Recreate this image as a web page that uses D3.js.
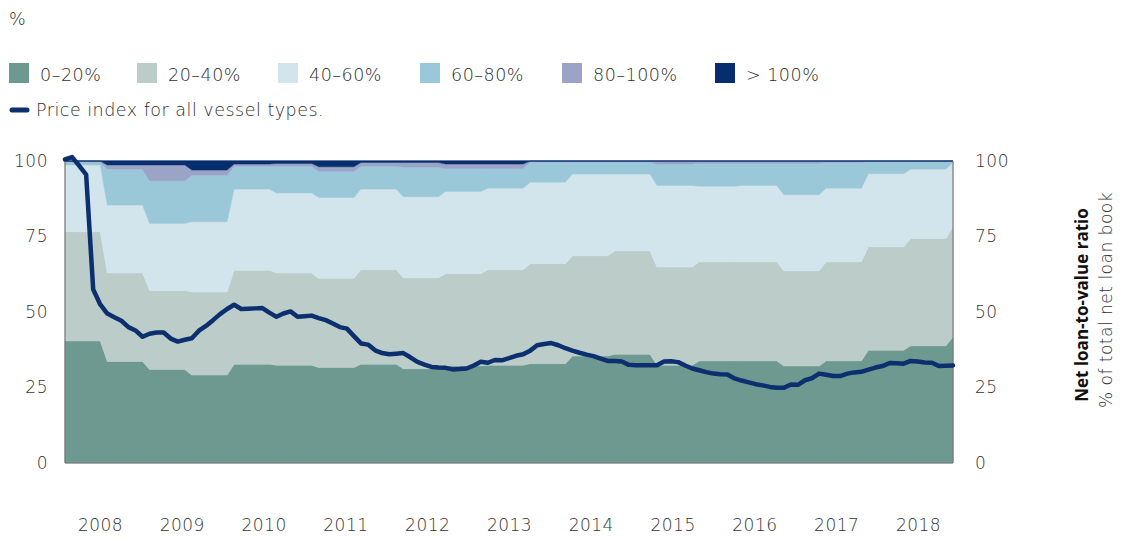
<!DOCTYPE html>
<html lang="en">
<head>
<meta charset="UTF-8">
<title>Net loan-to-value ratio</title>
<script src="https://d3js.org/d3.v7.min.js"></script>
<style>
  body { margin: 0; background: #fff; }
  text { font-family: "DejaVu Sans", sans-serif; font-weight: 200; fill: #2e2e2e; letter-spacing: 0.5px; }
  .axis text { font-size: 17px; fill: #333; font-family: "DejaVu Sans", sans-serif; font-weight: 200; }
  .axis path, .axis line { display: none; }
</style>
</head>
<body>
<svg id="chart" width="1122" height="538"></svg>
<script>
// half-year readings, 22 periods (H1 2008 ... end 2018), % of net loan book
const band0_20   = [40.4, 33.6, 31.0, 29.1, 32.7, 32.4, 31.6, 32.7, 31.2, 32.2, 32.4, 32.9, 35.4, 36.0, 32.4, 33.8, 33.8, 32.1, 33.8, 37.3, 38.8, 41.7];
const band20_40  = [36.2, 29.3, 26.1, 27.5, 31.1, 30.5, 29.6, 31.3, 30.1, 30.5, 31.6, 33.1, 33.2, 34.2, 32.5, 32.8, 32.8, 31.5, 32.8, 34.3, 35.5, 36.5];
const band40_60  = [22.1, 22.5, 22.2, 23.3, 26.9, 26.5, 26.7, 26.7, 26.9, 27.2, 27.0, 27.0, 27.1, 25.5, 27.0, 25.0, 25.3, 25.2, 24.4, 24.2, 23.0, 21.3];
const band60_80  = [ 1.0, 11.9, 14.2, 15.4,  7.6,  8.9,  8.7,  7.6,  9.8,  7.6,  6.5,  6.7,  4.0,  4.0,  7.1,  7.7,  7.4, 10.5,  8.5,  4.0,  2.5,  0.5];
const band80_100 = [ 0.3,  1.4,  5.2,  1.7,  0.7,  0.9,  1.5,  1.2,  1.5,  1.5,  1.5,  0.3,  0.3,  0.3,  1.0,  0.7,  0.7,  0.7,  0.5,  0.2,  0.2,  0.0];
const bandOver100= [ 0.0,  1.3,  1.3,  3.0,  1.0,  0.8,  1.9,  0.5,  0.5,  1.0,  1.0,  0.0,  0.0,  0.0,  0.0,  0.0,  0.0,  0.0,  0.0,  0.0,  0.0,  0.0];

// monthly price index for all vessel types
const priceIndex = [
  100.5, 101.3, 98.5, 95.5, 57.5, 52.5, 49.5, 48.3, 47.1, 45.0, 43.9, 41.8,
  42.8, 43.2, 43.2, 41.2, 40.2, 40.8, 41.3, 43.8, 45.4, 47.3, 49.3, 51.0,
  52.4, 51.0, 51.1, 51.2, 51.3, 49.8, 48.4, 49.5, 50.2, 48.4, 48.6, 48.8,
  48.0, 47.3, 46.2, 45.0, 44.5, 42.0, 39.6, 39.2, 37.3, 36.4, 36.0, 36.2,
  36.4, 35.0, 33.5, 32.6, 31.8, 31.6, 31.5, 31.0, 31.1, 31.3, 32.3, 33.5,
  33.2, 34.1, 34.0, 34.7, 35.5, 36.0, 37.2, 39.0, 39.4, 39.7, 39.0, 38.0,
  37.2, 36.5, 35.9, 35.4, 34.6, 33.8, 33.8, 33.6, 32.5, 32.4, 32.4, 32.4,
  32.4, 33.6, 33.7, 33.4, 32.3, 31.3, 30.7, 30.1, 29.6, 29.4, 29.3, 28.0,
  27.3, 26.7, 26.1, 25.7, 25.2, 24.9, 24.9, 26.0, 25.9, 27.4, 28.1, 29.6,
  29.2, 28.8, 28.8, 29.6, 30.0, 30.2, 30.9, 31.6, 32.1, 33.1, 33.0, 32.9,
  33.8, 33.6, 33.3, 33.2, 32.1, 32.2, 32.3
];

const years = [2008, 2009, 2010, 2011, 2012, 2013, 2014, 2015, 2016, 2017, 2018];
const yTicks = [0, 25, 50, 75, 100];
const seriesNames = ["0–20%", "20–40%", "40–60%", "60–80%", "80–100%", "> 100%"];
const seriesColors = ["#6e9991", "#bccdc9", "#d2e4ec", "#9ac8d9", "#9ba3c6", "#062e6e"];
const lineColor = "#0b2f6f";

const svg = d3.select("#chart");
const plot = {left: 65, right: 953, top: 161, bottom: 463};

const x = d3.scaleLinear().domain([0, priceIndex.length - 1]).range([plot.left, plot.right]);
const y = d3.scaleLinear().domain([0, 100]).range([plot.bottom, plot.top]);

// stack the half-year bands
const bands = [band0_20, band20_40, band40_60, band60_80, band80_100, bandOver100];
const rows = band0_20.map((_, i) => {
  const r = {period: i};
  seriesNames.forEach((n, j) => r[n] = bands[j][i]);
  return r;
});
const stacked = d3.stack().keys(seriesNames)(rows);

// each half-year value is held for six months, last reading sits on the edge
function stepPoints(layer) {
  const pts = [];
  layer.forEach((d, i) => {
    const start = i * 6;
    pts.push({m: start, y0: d[0], y1: d[1]});
    if (start + 5 <= priceIndex.length - 1) pts.push({m: start + 5, y0: d[0], y1: d[1]});
  });
  return pts;
}

const area = d3.area()
  .x(d => x(d.m))
  .y0(d => y(d.y0))
  .y1(d => y(d.y1));

svg.append("g").selectAll("path")
  .data(stacked)
  .join("path")
  .attr("fill", (d, i) => seriesColors[i])
  .attr("stroke", (d, i) => seriesColors[i])
  .attr("stroke-width", 0.5)
  .attr("d", d => area(stepPoints(d)));

// frame
svg.append("line").attr("x1", plot.left).attr("x2", plot.right).attr("y1", plot.top).attr("y2", plot.top)
  .attr("stroke", "#0b2f6f").attr("stroke-width", 1.2);
svg.append("line").attr("x1", plot.left).attr("x2", plot.right).attr("y1", plot.bottom).attr("y2", plot.bottom)
  .attr("stroke", "#777").attr("stroke-width", 1.2);
svg.append("line").attr("x1", plot.left).attr("x2", plot.left).attr("y1", plot.top).attr("y2", plot.bottom)
  .attr("stroke", "#777").attr("stroke-width", 1.2);
svg.append("line").attr("x1", plot.right).attr("x2", plot.right).attr("y1", plot.top).attr("y2", plot.bottom)
  .attr("stroke", "#777").attr("stroke-width", 1.2);

// price index line
const line = d3.line().x((d, i) => x(i)).y(d => y(d));
svg.append("path")
  .datum(priceIndex)
  .attr("fill", "none")
  .attr("stroke", lineColor)
  .attr("stroke-width", 4.5)
  .attr("stroke-linejoin", "round")
  .attr("stroke-linecap", "round")
  .attr("d", line);

// axes
svg.append("g").attr("class", "axis")
  .attr("transform", `translate(${plot.left - 17},0)`)
  .call(d3.axisLeft(y).tickValues(yTicks).tickSize(0).tickPadding(0));
svg.append("g").attr("class", "axis")
  .attr("transform", `translate(${plot.right + 22},0)`)
  .call(d3.axisRight(y).tickValues(yTicks).tickSize(0).tickPadding(0));

const xYears = d3.scalePoint().domain(years).range([100, 918]);
svg.append("g").attr("class", "axis")
  .attr("transform", `translate(0,${plot.bottom + 56})`)
  .call(d3.axisBottom(xYears).tickSize(0).tickPadding(0).tickFormat(d3.format("d")));

// right-hand titles
svg.append("text")
  .attr("transform", "translate(1088,305) rotate(-90)")
  .attr("text-anchor", "middle")
  .style("font-family", "\"Open Sans\", sans-serif").style("letter-spacing", "0px")
  .style("font-size", "17px").style("font-weight", "700").style("fill", "#111")
  .text("Net loan-to-value ratio");
svg.append("text")
  .attr("transform", "translate(1112,300) rotate(-90)")
  .attr("text-anchor", "middle")
  .style("font-size", "17px").style("fill", "#333")
  .text("% of total net loan book");

// unit
svg.append("text").attr("x", 9).attr("y", 25).style("font-size", "17.5px").text("%");

// legend
const legendX = [9, 137, 278, 420, 562, 715];
const legend = svg.append("g").selectAll("g")
  .data(seriesNames)
  .join("g")
  .attr("transform", (d, i) => `translate(${legendX[i]},63)`);
legend.append("rect").attr("width", 20).attr("height", 20).attr("fill", (d, i) => seriesColors[i]);
legend.append("text").attr("x", 31).attr("y", 18).style("font-size", "17.5px").text(d => d);

svg.append("line").attr("x1", 12).attr("x2", 27).attr("y1", 110).attr("y2", 110)
  .attr("stroke", lineColor).attr("stroke-width", 5).attr("stroke-linecap", "round");
svg.append("text").attr("x", 36).attr("y", 116).style("font-size", "17.5px")
  .text("Price index for all vessel types.");
</script>
</body>
</html>
